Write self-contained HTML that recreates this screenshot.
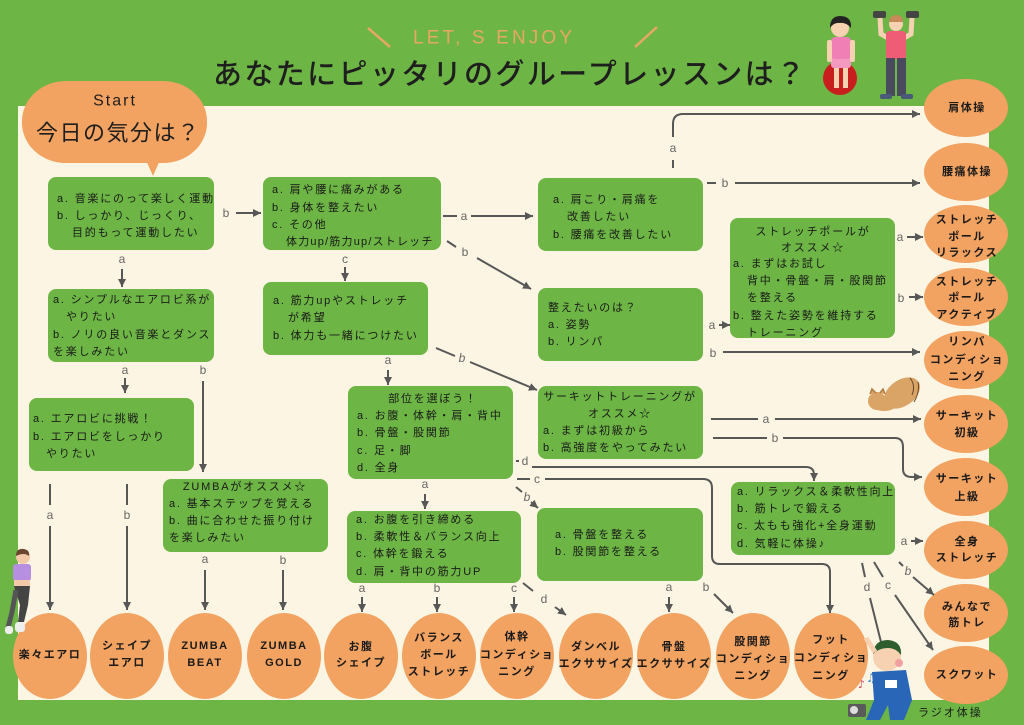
<!DOCTYPE html>
<html><head><meta charset="utf-8"><style>
html,body{margin:0;padding:0;background:#6db544;}
svg{display:block;}
.t{font-family:"Liberation Sans","Noto Sans CJK JP",sans-serif;font-size:11px;letter-spacing:1.8px;fill:#1a1a1a;dominant-baseline:central;}
.c{text-anchor:middle;}
.o{font-family:"Liberation Sans","Noto Sans CJK JP",sans-serif;font-size:11px;letter-spacing:1.5px;fill:#1a1a1a;font-weight:bold;text-anchor:middle;dominant-baseline:central;}
.l{font-family:"Liberation Sans",sans-serif;font-size:12px;fill:#666;text-anchor:middle;dominant-baseline:central;}
.ln{stroke:#575757;stroke-width:2;fill:none;}
</style></head><body>
<svg width="1024" height="725" viewBox="0 0 1024 725" xmlns="http://www.w3.org/2000/svg">
<defs>
<marker id="ah" markerUnits="userSpaceOnUse" markerWidth="9" markerHeight="9" refX="8" refY="4" orient="auto">
<path d="M0,0 L8,4 L0,8 z" fill="#575757"/>
</marker>
</defs>
<rect x="0" y="0" width="1024" height="725" fill="#6db544"/>
<rect x="18" y="106" width="971" height="594" fill="#fdf5e3"/>

<!-- header -->
<line x1="368" y1="28" x2="390" y2="47" stroke="#e6a864" stroke-width="2.5"/>
<line x1="657" y1="27" x2="635" y2="47" stroke="#e6a864" stroke-width="2.5"/>
<text x="413" y="38" textLength="159" lengthAdjust="spacing" style="font-family:'Liberation Sans',sans-serif;font-size:19px;fill:#e6a864;dominant-baseline:central;">LET, S ENJOY</text>
<text x="213" y="75" textLength="592" lengthAdjust="spacing" style="font-family:'Liberation Sans','Noto Sans CJK JP',sans-serif;font-size:29px;fill:#1e1e1e;dominant-baseline:central;font-weight:500;">あなたにピッタリのグループレッスンは？</text>

<!-- woman on ball -->
<circle cx="840" cy="78" r="17" fill="#c81e1e"/>
<rect x="834" y="60" width="5" height="28" fill="#f6d2b2"/>
<rect x="843" y="60" width="5" height="28" fill="#f6d2b2"/>
<rect x="831" y="56" width="20" height="12" rx="3" fill="#f49ac1"/>
<rect x="831" y="37" width="20" height="22" rx="4" fill="#ef7fb5"/>
<rect x="827" y="40" width="5" height="22" rx="2" fill="#f6d2b2"/>
<rect x="850" y="40" width="5" height="22" rx="2" fill="#f6d2b2"/>
<circle cx="840" cy="28" r="9" fill="#f6d2b2"/>
<path d="M830,28 Q830,16 840,16 Q852,16 851,28 Q846,22 840,23 Q834,22 830,28z" fill="#222"/>
<!-- man with dumbbells -->
<rect x="873" y="11" width="13" height="7" rx="2" fill="#444"/>
<rect x="906" y="11" width="13" height="7" rx="2" fill="#444"/>
<path d="M880,18 L881,34 L888,38" stroke="#f6d2b2" stroke-width="5" fill="none"/>
<path d="M912,18 L911,34 L904,38" stroke="#f6d2b2" stroke-width="5" fill="none"/>
<circle cx="896" cy="24" r="7" fill="#f6d2b2"/>
<path d="M889,22 Q890,15 896,15 Q903,15 903,22z" fill="#c8895a"/>
<rect x="886" y="31" width="20" height="28" rx="3" fill="#ee5d75"/>
<rect x="886" y="58" width="9" height="38" fill="#4a4a5e"/>
<rect x="897" y="58" width="9" height="38" fill="#4a4a5e"/>
<rect x="880" y="94" width="12" height="5" rx="2" fill="#4a5a78"/>
<rect x="901" y="94" width="12" height="5" rx="2" fill="#4a5a78"/>

<!-- start bubble -->
<rect x="22" y="81" width="185" height="82" rx="44" ry="40" fill="#f2a261"/>
<path d="M146,160 L160,160 L153,176 z" fill="#f2a261"/>
<text x="115" y="101" class="c" style="font-family:'Liberation Sans',sans-serif;font-size:16px;letter-spacing:2px;fill:#1e1e1e;dominant-baseline:central;">Start</text>
<text x="36" y="133" textLength="163" lengthAdjust="spacing" style="font-family:'Liberation Sans','Noto Sans CJK JP',sans-serif;font-size:22px;fill:#1e1e1e;dominant-baseline:central;">今日の気分は？</text>

<!-- green boxes -->
<g fill="#6db544">
<rect x="48" y="177" width="166" height="73" rx="8"/>
<rect x="263" y="177" width="178" height="73" rx="8"/>
<rect x="538" y="178" width="165" height="73" rx="8"/>
<rect x="538" y="288" width="165" height="73" rx="8"/>
<rect x="730" y="218" width="165" height="120" rx="8"/>
<rect x="263" y="282" width="165" height="73" rx="8"/>
<rect x="48" y="289" width="166" height="73" rx="8"/>
<rect x="29" y="398" width="165" height="73" rx="8"/>
<rect x="163" y="479" width="165" height="73" rx="8"/>
<rect x="348" y="386" width="165" height="93" rx="8"/>
<rect x="347" y="511" width="174" height="72" rx="8"/>
<rect x="538" y="386" width="165" height="73" rx="8"/>
<rect x="537" y="508" width="166" height="73" rx="8"/>
<rect x="731" y="482" width="164" height="73" rx="8"/>
</g>

<!-- box texts -->
<text class="t" x="57" y="199">a. 音楽にのって楽しく運動</text>
<text class="t" x="57" y="216">b. しっかり、じっくり、</text>
<text class="t" x="72" y="233">目的もって運動したい</text>

<text class="t" x="272" y="190">a. 肩や腰に痛みがある</text>
<text class="t" x="272" y="208">b. 身体を整えたい</text>
<text class="t" x="272" y="225">c. その他</text>
<text class="t" x="286" y="242" style="letter-spacing:1.2px">体力up/筋力up/ストレッチ</text>

<text class="t" x="553" y="200">a. 肩こり・肩痛を</text>
<text class="t" x="567" y="217">改善したい</text>
<text class="t" x="553" y="235">b. 腰痛を改善したい</text>

<text class="t" x="548" y="308">整えたいのは？</text>
<text class="t" x="548" y="325">a. 姿勢</text>
<text class="t" x="548" y="342">b. リンパ</text>

<text class="t c" x="813" y="232">ストレッチポールが</text>
<text class="t c" x="813" y="248">オススメ☆</text>
<text class="t" x="733" y="264">a. まずはお試し</text>
<text class="t" x="747" y="281">背中・骨盤・肩・股関節</text>
<text class="t" x="747" y="298">を整える</text>
<text class="t" x="733" y="316">b. 整えた姿勢を維持する</text>
<text class="t" x="747" y="333">トレーニング</text>

<text class="t" x="273" y="301">a.  筋力upやストレッチ</text>
<text class="t" x="288" y="318">が希望</text>
<text class="t" x="273" y="336">b. 体力も一緒につけたい</text>

<text class="t" x="53" y="300">a. シンプルなエアロビ系が</text>
<text class="t" x="66" y="317">やりたい</text>
<text class="t" x="53" y="335">b. ノリの良い音楽とダンス</text>
<text class="t" x="53" y="352">を楽しみたい</text>

<text class="t" x="33" y="419">a. エアロビに挑戦！</text>
<text class="t" x="33" y="437">b. エアロビをしっかり</text>
<text class="t" x="46" y="454">やりたい</text>

<text class="t c" x="245" y="487">ZUMBAがオススメ☆</text>
<text class="t" x="169" y="504">a. 基本ステップを覚える</text>
<text class="t" x="169" y="521">b. 曲に合わせた振り付け</text>
<text class="t" x="169" y="538">を楽しみたい</text>

<text class="t c" x="433" y="399">部位を選ぼう！</text>
<text class="t" x="357" y="416">a. お腹・体幹・肩・背中</text>
<text class="t" x="357" y="433">b. 骨盤・股関節</text>
<text class="t" x="357" y="451">c. 足・脚</text>
<text class="t" x="357" y="468">d. 全身</text>

<text class="t" x="356" y="520">a. お腹を引き締める</text>
<text class="t" x="356" y="537">b. 柔軟性＆バランス向上</text>
<text class="t" x="356" y="554">c. 体幹を鍛える</text>
<text class="t" x="356" y="572">d. 肩・背中の筋力UP</text>

<text class="t c" x="620" y="397">サーキットトレーニングが</text>
<text class="t c" x="620" y="414">オススメ☆</text>
<text class="t" x="543" y="431">a. まずは初級から</text>
<text class="t" x="543" y="448">b. 高強度をやってみたい</text>

<text class="t" x="555" y="535">a. 骨盤を整える</text>
<text class="t" x="555" y="552">b. 股関節を整える</text>

<text class="t" x="737" y="492">a. リラックス＆柔軟性向上</text>
<text class="t" x="737" y="509">b. 筋トレで鍛える</text>
<text class="t" x="737" y="526">c. 太もも強化+全身運動</text>
<text class="t" x="737" y="544">d. 気軽に体操♪</text>

<!-- right column ellipses -->
<g fill="#f2a261">
<ellipse cx="966" cy="108" rx="42" ry="29"/>
<ellipse cx="966" cy="172" rx="42" ry="29"/>
<ellipse cx="966" cy="234" rx="42" ry="29"/>
<ellipse cx="966" cy="297" rx="42" ry="29"/>
<ellipse cx="966" cy="360" rx="42" ry="29"/>
<ellipse cx="966" cy="424" rx="42" ry="29"/>
<ellipse cx="966" cy="487" rx="42" ry="29"/>
<ellipse cx="966" cy="550" rx="42" ry="29"/>
<ellipse cx="966" cy="613" rx="42" ry="29"/>
<ellipse cx="966" cy="675" rx="42" ry="29"/>
</g>
<text class="o" x="967" y="108">肩体操</text>
<text class="o" x="967" y="172">腰痛体操</text>
<text class="o" x="967" y="220">ストレッチ</text>
<text class="o" x="967" y="237">ポール</text>
<text class="o" x="967" y="253">リラックス</text>
<text class="o" x="967" y="282">ストレッチ</text>
<text class="o" x="967" y="298">ポール</text>
<text class="o" x="967" y="315">アクティブ</text>
<text class="o" x="967" y="342">リンパ</text>
<text class="o" x="967" y="360">コンディショ</text>
<text class="o" x="967" y="377">ニング</text>
<text class="o" x="967" y="416">サーキット</text>
<text class="o" x="967" y="433">初級</text>
<text class="o" x="967" y="479">サーキット</text>
<text class="o" x="967" y="497">上級</text>
<text class="o" x="967" y="542">全身</text>
<text class="o" x="967" y="558">ストレッチ</text>
<text class="o" x="967" y="607">みんなで</text>
<text class="o" x="967" y="623">筋トレ</text>
<text class="o" x="967" y="675">スクワット</text>

<!-- bottom ellipses -->
<g fill="#f2a261">
<ellipse cx="50" cy="656" rx="37" ry="43"/>
<ellipse cx="127" cy="656" rx="37" ry="43"/>
<ellipse cx="205" cy="656" rx="37" ry="43"/>
<ellipse cx="284" cy="656" rx="37" ry="43"/>
<ellipse cx="361" cy="656" rx="37" ry="43"/>
<ellipse cx="439" cy="656" rx="37" ry="43"/>
<ellipse cx="517" cy="656" rx="37" ry="43"/>
<ellipse cx="596" cy="656" rx="37" ry="43"/>
<ellipse cx="674" cy="656" rx="37" ry="43"/>
<ellipse cx="753" cy="656" rx="37" ry="43"/>
<ellipse cx="831" cy="656" rx="37" ry="43"/>
</g>
<text class="o" x="50" y="655">楽々エアロ</text>
<text class="o" x="127" y="646">シェイプ</text>
<text class="o" x="127" y="663">エアロ</text>
<text class="o" x="205" y="646">ZUMBA</text>
<text class="o" x="205" y="663">BEAT</text>
<text class="o" x="284" y="646">ZUMBA</text>
<text class="o" x="284" y="663">GOLD</text>
<text class="o" x="361" y="647">お腹</text>
<text class="o" x="361" y="663">シェイプ</text>
<text class="o" x="439" y="638">バランス</text>
<text class="o" x="439" y="655">ボール</text>
<text class="o" x="439" y="672">ストレッチ</text>
<text class="o" x="517" y="637">体幹</text>
<text class="o" x="517" y="655">コンディショ</text>
<text class="o" x="517" y="672">ニング</text>
<text class="o" x="596" y="647">ダンベル</text>
<text class="o" x="596" y="664">エクササイズ</text>
<text class="o" x="674" y="647">骨盤</text>
<text class="o" x="674" y="664">エクササイズ</text>
<text class="o" x="753" y="642">股関節</text>
<text class="o" x="753" y="659">コンディショ</text>
<text class="o" x="753" y="676">ニング</text>
<text class="o" x="831" y="640">フット</text>
<text class="o" x="831" y="658">コンディショ</text>
<text class="o" x="831" y="676">ニング</text>

<!-- connectors -->
<text class="l" x="226" y="213">b</text>
<line class="ln" x1="236" y1="213" x2="261" y2="213" marker-end="url(#ah)"/>
<text class="l" x="122" y="259">a</text>
<line class="ln" x1="122" y1="269" x2="122" y2="287" marker-end="url(#ah)"/>
<text class="l" x="345" y="259">c</text>
<line class="ln" x1="345" y1="267" x2="345" y2="281" marker-end="url(#ah)"/>

<line class="ln" x1="443" y1="216" x2="457" y2="216"/>
<text class="l" x="464" y="216">a</text>
<line class="ln" x1="471" y1="216" x2="533" y2="216" marker-end="url(#ah)"/>

<line class="ln" x1="447" y1="241" x2="456" y2="247"/>
<text class="l" x="465" y="252">b</text>
<line class="ln" x1="477" y1="258" x2="531" y2="289" marker-end="url(#ah)"/>

<line class="ln" x1="673" y1="168" x2="673" y2="160"/>
<text class="l" x="673" y="148">a</text>
<path class="ln" d="M673,137 V124 Q673,114 683,114 H920" marker-end="url(#ah)"/>

<line class="ln" x1="707" y1="183" x2="716" y2="183"/>
<text class="l" x="725" y="183">b</text>
<line class="ln" x1="735" y1="183" x2="920" y2="183" marker-end="url(#ah)"/>

<text class="l" x="712" y="325">a</text>
<line class="ln" x1="719" y1="325" x2="730" y2="325" marker-end="url(#ah)"/>
<text class="l" x="713" y="353">b</text>
<line class="ln" x1="723" y1="352" x2="920" y2="352" marker-end="url(#ah)"/>

<text class="l" x="900" y="237">a</text>
<line class="ln" x1="907" y1="237" x2="923" y2="237" marker-end="url(#ah)"/>
<text class="l" x="901" y="298">b</text>
<line class="ln" x1="909" y1="297" x2="923" y2="297" marker-end="url(#ah)"/>

<text class="l" x="388" y="360">a</text>
<line class="ln" x1="388" y1="370" x2="388" y2="385" marker-end="url(#ah)"/>
<line class="ln" x1="436" y1="348" x2="455" y2="356"/>
<text class="l" x="462" y="358" style="font-style:italic">b</text>
<line class="ln" x1="470" y1="362" x2="537" y2="390" marker-end="url(#ah)"/>

<text class="l" x="125" y="370">a</text>
<line class="ln" x1="125" y1="378" x2="125" y2="393" marker-end="url(#ah)"/>
<text class="l" x="203" y="370">b</text>
<line class="ln" x1="203" y1="381" x2="203" y2="472" marker-end="url(#ah)"/>

<line class="ln" x1="50" y1="484" x2="50" y2="505"/>
<text class="l" x="50" y="515">a</text>
<line class="ln" x1="50" y1="526" x2="50" y2="610" marker-end="url(#ah)"/>
<line class="ln" x1="127" y1="484" x2="127" y2="505"/>
<text class="l" x="127" y="515">b</text>
<line class="ln" x1="127" y1="526" x2="127" y2="610" marker-end="url(#ah)"/>

<text class="l" x="205" y="559">a</text>
<line class="ln" x1="205" y1="570" x2="205" y2="610" marker-end="url(#ah)"/>
<text class="l" x="283" y="560">b</text>
<line class="ln" x1="283" y1="570" x2="283" y2="610" marker-end="url(#ah)"/>

<text class="l" x="425" y="484">a</text>
<line class="ln" x1="425" y1="494" x2="425" y2="509" marker-end="url(#ah)"/>

<line class="ln" x1="516" y1="461" x2="519" y2="461"/>
<text class="l" x="525" y="461">d</text>
<path class="ln" d="M532,467 H806 Q814,467 814,475 V481" marker-end="url(#ah)"/>

<line class="ln" x1="517" y1="479" x2="530" y2="479"/>
<text class="l" x="537" y="479">c</text>
<path class="ln" d="M545,479 H703 Q712,479 712,488 V556 Q712,564 720,564 H822 Q830,564 830,572 V613" marker-end="url(#ah)"/>

<line class="ln" x1="516" y1="487" x2="522" y2="492"/>
<text class="l" x="527" y="497" style="font-style:italic">b</text>
<line class="ln" x1="531" y1="502" x2="538" y2="508" marker-end="url(#ah)"/>

<text class="l" x="362" y="588">a</text>
<line class="ln" x1="362" y1="597" x2="362" y2="612" marker-end="url(#ah)"/>
<text class="l" x="437" y="588">b</text>
<line class="ln" x1="437" y1="597" x2="437" y2="612" marker-end="url(#ah)"/>
<text class="l" x="514" y="588">c</text>
<line class="ln" x1="514" y1="597" x2="514" y2="612" marker-end="url(#ah)"/>
<line class="ln" x1="523" y1="583" x2="533" y2="591"/>
<text class="l" x="544" y="599">d</text>
<line class="ln" x1="555" y1="607" x2="566" y2="615" marker-end="url(#ah)"/>

<text class="l" x="669" y="587">a</text>
<line class="ln" x1="669" y1="597" x2="669" y2="612" marker-end="url(#ah)"/>
<text class="l" x="706" y="587">b</text>
<line class="ln" x1="714" y1="594" x2="733" y2="613" marker-end="url(#ah)"/>

<line class="ln" x1="711" y1="419" x2="758" y2="419"/>
<text class="l" x="766" y="419">a</text>
<line class="ln" x1="775" y1="419" x2="921" y2="419" marker-end="url(#ah)"/>

<line class="ln" x1="713" y1="438" x2="767" y2="438"/>
<text class="l" x="775" y="438">b</text>
<path class="ln" d="M783,438 H895 Q903,438 903,447 V469 Q903,477 912,477 H922" marker-end="url(#ah)"/>

<text class="l" x="904" y="541">a</text>
<line class="ln" x1="911" y1="541" x2="923" y2="541" marker-end="url(#ah)"/>
<line class="ln" x1="899" y1="562" x2="903" y2="566"/>
<text class="l" x="908" y="571" style="font-style:italic">b</text>
<line class="ln" x1="913" y1="577" x2="934" y2="595" marker-end="url(#ah)"/>
<line class="ln" x1="874" y1="562" x2="883" y2="577"/>
<text class="l" x="888" y="585">c</text>
<line class="ln" x1="895" y1="595" x2="933" y2="650" marker-end="url(#ah)"/>
<line class="ln" x1="862" y1="563" x2="865" y2="577"/>
<text class="l" x="867" y="587">d</text>
<line class="ln" x1="870" y1="598" x2="883" y2="650" marker-end="url(#ah)"/>

<!-- cat -->
<g>
<ellipse cx="902" cy="393" rx="20" ry="13" transform="rotate(-35 902 393)" fill="#d9a466"/>
<ellipse cx="884" cy="404" rx="13" ry="7" fill="#d9a466"/>
<circle cx="877" cy="401" r="9" fill="#d9a466"/>
<path d="M870,394 L872,389 L876,393 M880,393 L883,389 L885,394" stroke="#b07a40" stroke-width="1.5" fill="#d9a466"/>
<path d="M910,378 Q916,385 912,395 M918,382 Q920,392 914,402" stroke="#6b4a2a" stroke-width="1" fill="none"/>
</g>

<!-- runner -->
<g>
<circle cx="23" cy="557" r="7" fill="#f3c9a8"/>
<path d="M16,556 Q16,548 24,549 Q30,550 29,556 Q24,552 16,556z" fill="#6b4630"/>
<rect x="13" y="564" width="18" height="17" rx="3" fill="#b68fe0"/>
<rect x="14" y="580" width="16" height="6" fill="#f3c9a8"/>
<path d="M14,586 L30,586 L28,605 L24,622 L18,622 L20,605 Z" fill="#444"/>
<path d="M16,590 L12,612 L8,628" stroke="#555" stroke-width="5" fill="none"/>
<rect x="15" y="622" width="10" height="10" rx="3" fill="#eee"/>
<rect x="5" y="626" width="8" height="8" rx="3" fill="#eee"/>
</g>

<!-- radio exercise man -->
<g>
<rect x="848" y="704" width="18" height="13" rx="2" fill="#5a5a5a"/>
<circle cx="854" cy="710" r="4" fill="#ddd"/>
<text x="858" y="688" style="font-family:'DejaVu Sans',sans-serif;font-size:11px;fill:#d04060;">♪</text>
<text x="866" y="682" style="font-family:'DejaVu Sans',sans-serif;font-size:12px;fill:#3a8ad0;">♫</text>
<path d="M872,672 L906,670 L912,700 L904,720 L890,720 L888,705 L880,720 L866,720 L874,700 Z" fill="#2a66b8"/>
<rect x="885" y="680" width="12" height="8" fill="#fff"/>
<circle cx="887" cy="657" r="14" fill="#f6d2b2"/>
<path d="M873,654 Q874,640 888,640 Q902,641 901,655 Q896,648 888,648 Q879,648 873,654z" fill="#2e5e2e"/>
<circle cx="899" cy="663" r="4" fill="#f0a0a0"/>
<path d="M875,652 L866,638" stroke="#f6d2b2" stroke-width="5"/>
</g>
<text x="918" y="713" style="font-family:'Liberation Sans','Noto Sans CJK JP',sans-serif;font-size:11px;letter-spacing:2px;fill:#1a1a1a;dominant-baseline:central;">ラジオ体操</text>
</svg>
</body></html>
